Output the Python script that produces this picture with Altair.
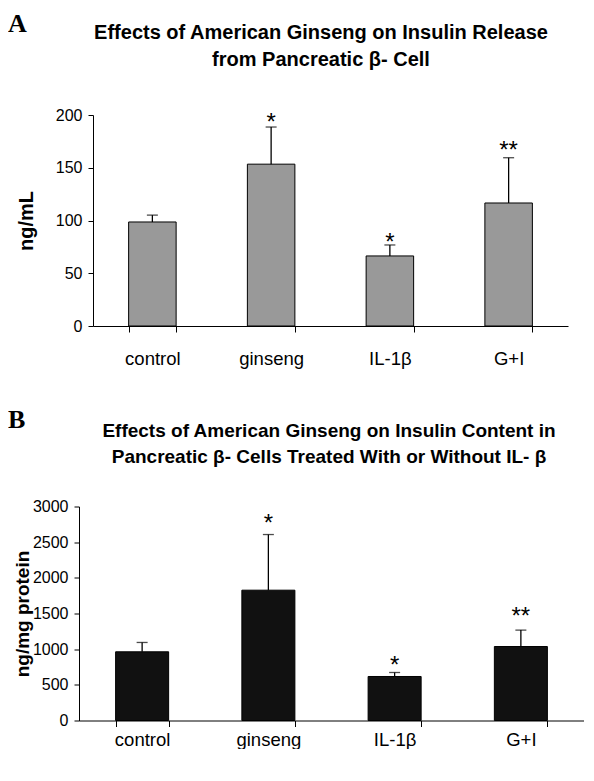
import altair as alt
import pandas as pd

categories = ["control", "ginseng", "IL-1β", "G+I"]

release_mean = [98.6, 153.4, 66.4, 116.6]
release_sem = [6.5, 35.2, 10.4, 42.9]
release_star = ["", "*", "*", "**"]
release_star_y = [None, 199, 84.5, 172]

content_mean = [963, 1827, 617, 1037]
content_sem = [131, 780, 56, 230]
content_star = ["", "*", "*", "**"]
content_star_y = [None, 2850, 861, 1538]

FONT = "Liberation Sans"


def panel(letter, title_text, title_size, ytitle, means, sems, stars, star_y, ymax, ystep,
          width, height, x_range, y_offset, fill, pad_inner, pad_outer,
          letter_y, title_x, title_y, line_height, x_label_pad, ytitle_x, ytitle_size):
    df = pd.DataFrame({
        "cat": categories,
        "mean": means,
        "upper": [m + s for m, s in zip(means, sems)],
        "star": stars,
        "star_y": star_y,
    })
    xaxis = alt.Axis(labelAngle=0, tickBand="extent", tickSize=6,
                     labelPadding=x_label_pad, labelFontSize=18.5, labelFont=FONT,
                     labelColor="black", domainColor="black", tickColor="black",
                     domainWidth=1, tickWidth=1, grid=False)
    xscale = alt.Scale(paddingInner=pad_inner, paddingOuter=pad_outer, range=x_range)
    xs = alt.X("cat:N", sort=categories, title=None, scale=xscale, axis=xaxis)
    yscale = alt.Scale(domain=[0, ymax], nice=False, zero=True)
    yaxis = alt.Axis(values=list(range(0, ymax + 1, ystep)), tickCount=ymax // ystep + 1,
                     format="d", labelOverlap=False,
                     grid=False, tickSize=5, offset=y_offset,
                     labelPadding=6, labelFontSize=16, labelFont=FONT, labelColor="black",
                     domainColor="black", tickColor="black", domainWidth=1, tickWidth=1,
                     titleFont=FONT, titleFontSize=ytitle_size, titleFontWeight="bold",
                     titleColor="black", titleAngle=270, titleX=ytitle_x, titleY=height / 2,
                     titleAlign="center", titleBaseline="bottom")

    def Y(field):
        return alt.Y(field, title=ytitle, scale=yscale, axis=yaxis)

    base = alt.Chart(df)
    bars = base.mark_bar(fill=fill, stroke="black", strokeWidth=1).encode(
        x=xs, y=Y("mean:Q"))
    rules = base.mark_rule(color="black", strokeWidth=1.3).encode(
        x=xs, y=Y("mean:Q"), y2="upper:Q")
    caps = base.mark_tick(color="black", thickness=1.3, size=11, orient="horizontal").encode(
        x=xs, y=Y("upper:Q"))
    star_marks = base.transform_filter("datum.star != ''").mark_text(
        font=FONT, fontSize=24, baseline="alphabetic", dy=13.5, color="black"
    ).encode(x=xs, y=Y("star_y:Q"), text="star:N")
    letter_mark = alt.Chart(pd.DataFrame({"t": [letter]})).mark_text(
        font="Liberation Serif", fontWeight="bold", fontSize=26, align="left",
        baseline="top", color="black"
    ).encode(x=alt.value(-71), y=alt.value(letter_y), text="t:N")
    title_mark = alt.Chart(pd.DataFrame({"t": [title_text]})).mark_text(
        font=FONT, fontWeight="bold", fontSize=title_size, align="center",
        baseline="alphabetic", color="black", lineBreak="\n", lineHeight=line_height
    ).encode(x=alt.value(title_x), y=alt.value(title_y), text="t:N")
    return alt.layer(bars, rules, caps, star_marks, letter_mark, title_mark).properties(
        width=width, height=height,
    )


chart_a = panel(
    "A",
    "Effects of American Ginseng on Insulin Release\nfrom Pancreatic β- Cell", 20,
    "ng/mL", release_mean, release_sem, release_star, release_star_y,
    200, 50, 489, 211, [14, 489], -14, "#999999", 0.6, 0.3,
    -104, 242, -75.7, 27, 17.5, -57, 20,
)
chart_b = panel(
    "B",
    "Effects of American Ginseng on Insulin Content in\nPancreatic β- Cells Treated With or Without IL- β", 19,
    "ng/mg protein", content_mean, content_sem, content_star, content_star_y,
    3000, 500, 505, 214, [0, 505], 0, "#111111", 0.58, 0.29,
    -100, 250, -69.5, 26, 4, -47, 19,
)

chart = alt.concat(chart_a, chart_b, columns=1, spacing=38.5, align="none",
                   bounds="full",
                   padding={"left": 0, "top": 3, "right": 0, "bottom": 0}
                   ).configure_view(stroke=None)

chart.save("out.html", embed_options={"renderer": "svg", "actions": False})
